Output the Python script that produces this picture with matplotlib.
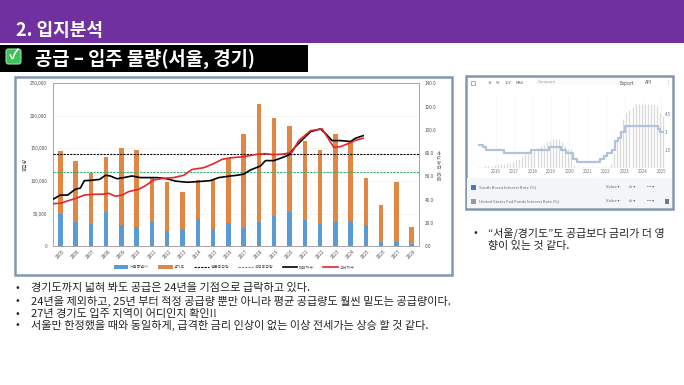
import matplotlib
matplotlib.use("Agg")
import matplotlib.pyplot as plt
from matplotlib.patches import Rectangle, FancyBboxPatch
from matplotlib.lines import Line2D

plt.rcParams['font.family'] = ['Noto Sans CJK KR', 'DejaVu Sans']

W, H = 684, 385

# 공급 물량
years = list(range(2005, 2029))
total = [146000, 131000, 112000, 137000, 150000, 147000, 106000, 99000, 83000, 101000, 101000, 135500,
         173000, 218000, 197000, 185000, 162000, 148000, 172000, 162000, 105000, 63000, 99000, 29000]
seoul = [50000, 38000, 34000, 52000, 33000, 29000, 37000, 24000, 27000, 42000, 27000, 36000,
         28600, 37000, 47000, 52000, 40000, 34000, 37000, 39000, 32000, 6000, 7000, 3000]
gyeonggi = [t - s for t, s in zip(total, seoul)]
avg_supply = 141000
proper_supply = 114500

# 매매지수
sale_t = [2004.52, 2005.0, 2005.48, 2005.98, 2006.31, 2006.57, 2007.07, 2007.58, 2007.95, 2008.27, 2008.71,
          2009.15, 2009.69, 2010.24, 2010.78, 2011.33, 2011.99, 2012.53, 2013.30, 2013.95, 2014.82, 2015.37,
          2016.13, 2016.57, 2017.01, 2017.44, 2018.10, 2018.43, 2018.97, 2019.41, 2019.95, 2020.39, 2020.94,
          2021.38, 2022.03, 2022.35, 2022.79, 2023.34, 2024.0, 2024.32, 2024.82]
sale = [40.4, 44, 44, 49, 50, 56.4, 56.7, 57.5, 61, 60.4, 58, 59, 60.4, 59, 59, 59, 58, 56, 55, 55.5, 56.4, 59,
        60.4, 61, 62, 65.5, 69, 73.6, 73.6, 75.6, 78.4, 85.6, 92.8, 98.5, 100.8, 97, 90.8, 90.8, 90, 92.8, 95]

# 전세지수
rent_t = [2004.52, 2005.0, 2005.48, 2005.98, 2006.57, 2007.18, 2007.73, 2008.17, 2008.60, 2009.04, 2009.48,
          2010.13, 2010.57, 2011.11, 2011.77, 2012.42, 2013.08, 2013.62, 2014.39, 2015.04, 2015.59, 2016.13,
          2016.79, 2017.0, 2017.88, 2018.43, 2018.97, 2019.63, 2020.17, 2020.61, 2021.38, 2022.14, 2022.47,
          2022.90, 2023.34, 2024.0, 2024.32, 2024.82]
rent = [36.6, 37, 39, 41, 44, 44.7, 44.7, 45.5, 43, 44, 47, 49, 52, 57, 58.4, 59, 61, 66, 67.5, 71, 74.7, 76,
        76.7, 77, 79, 79.6, 78.7, 79.3, 81, 90.8, 99.3, 100.8, 94, 85, 85.6, 89, 91, 92.8]

# 금리 스크린샷
kr_t = [2015.10, 2015.3, 2015.45, 2016.45, 2017.9, 2018.9, 2019.55, 2019.8, 2020.2, 2020.4, 2021.65, 2021.9,
        2022.05, 2022.3, 2022.5, 2022.65, 2022.8, 2023.05, 2024.8, 2024.95, 2025.1]
kr_rate = [1.9, 1.75, 1.5, 1.25, 1.5, 1.75, 1.5, 1.25, 0.75, 0.5, 0.75, 1.0,
           1.25, 1.5, 2.25, 2.5, 3.0, 3.5, 3.25, 3.0, 3.0]
us_rate = [0.12, 0.12, 0.13, 0.13, 0.14, 0.24,
           0.36, 0.37, 0.37, 0.39, 0.40, 0.54,
           0.65, 0.79, 1.04, 1.15, 1.15, 1.30,
           1.41, 1.69, 1.82, 1.91, 2.19, 2.27,
           2.40, 2.41, 2.38, 2.13, 1.83, 1.55,
           1.55, 0.26, 0.05, 0.09, 0.09, 0.09,
           0.09, 0.07, 0.06, 0.09, 0.08, 0.08,
           0.08, 0.33, 1.21, 2.33, 3.08, 4.10,
           4.57, 4.83, 5.08, 5.33, 5.33, 5.33,
           5.33, 5.33, 5.33, 5.33, 5.13, 4.58,
           4.33, 4.33]
us_t = [2015.1 + i / 6 for i in range(len(us_rate))]
rate_years = list(range(2016, 2026))


def px_axes(x0, y0, x1, y1, **kw):
    return fig.add_axes([x0 / W, 1 - y1 / H, (x1 - x0) / W, (y1 - y0) / H], **kw)


fig = plt.figure(figsize=(W / 100, H / 100), dpi=100, facecolor='white')

# 슬라이드 배경
bg = fig.add_axes([0, 0, 1, 1])
bg.set_xlim(0, W)
bg.set_ylim(H, 0)
bg.axis('off')

bg.add_patch(Rectangle((0, 0), W, 43, fc='#7030A0', ec='none'))
bg.text(16, 30, '2. 입지분석', color='white', fontsize=13, fontweight='bold', va='center')
bg.add_patch(Rectangle((0, 45), 308, 27, fc='black', ec='none'))
bg.add_patch(FancyBboxPatch((6, 49), 15, 15, boxstyle='round,pad=0,rounding_size=2.5', fc='#3FC25C', ec='#9BE0A8', lw=0.8))
bg.text(13.5, 56, '✓', color='white', fontsize=10, fontweight='bold', ha='center', va='center')
bg.text(35, 59, '공급 – 입주 물량(서울, 경기)', color='white', fontsize=13.5, fontweight='bold', va='center')

bg.add_patch(Rectangle((15, 77), 437, 198, fc='white', ec='#8497B0', lw=1.8))
bg.add_patch(Rectangle((466, 76), 207, 133, fc='white', ec='#8497B0', lw=1.8))

# 공급 차트
ax = px_axes(52.7, 83.3, 419.3, 246.3)
ax.bar(years, seoul, width=0.29, color='#5B9BD5', zorder=2)
ax.bar(years, gyeonggi, width=0.29, bottom=seoul, color='#E28743', zorder=2)
ax.axhline(avg_supply, color='black', lw=0.8, ls=(0, (2, 1)), zorder=3)
ax.axhline(proper_supply, color='#3DAA6D', lw=0.8, ls=(0, (2, 1)), zorder=3)
ax.set_xlim(2004.5, 2028.5)
ax.set_ylim(0, 250000)
ax.set_xticks(years)
ax.set_xticklabels(years, rotation=45, fontsize=3.4, color='#555555')
ax.set_yticks(range(0, 250001, 50000))
ax.set_yticklabels([f'{v:,}' for v in range(0, 250001, 50000)], fontsize=3.4, color='#555555')
ax.tick_params(length=0, pad=4)
ax.tick_params(axis='x', pad=2)
ax.grid(axis='y', color='#F2F2F2', lw=0.5, zorder=0)
ax.set_axisbelow(True)
ax.set_ylabel('공급량', fontsize=3.4, color='#555555', labelpad=2)
for s in ax.spines.values():
    s.set_color('#A6A6A6')
    s.set_linewidth(0.7)

ax2 = ax.twinx()
ax2.plot(sale_t, sale, color='black', lw=1.2, zorder=4)
ax2.plot(rent_t, rent, color='#E5262A', lw=1.2, zorder=5)
ax2.set_ylim(0, 140)
ax2.set_yticks(range(0, 141, 20))
ax2.set_yticklabels([f'{v:.1f}' for v in range(0, 141, 20)], fontsize=3.4, color='#555555')
ax2.tick_params(length=0, pad=4)
ax2.set_ylabel('매매·전세 지수', fontsize=3.4, color='#555555', labelpad=1)
for s in ax2.spines.values():
    s.set_visible(False)

handles = [Rectangle((0, 0), 1, 1, fc='#5B9BD5'), Rectangle((0, 0), 1, 1, fc='#E28743'),
           Line2D([], [], color='black', lw=0.8, ls=(0, (2, 1))),
           Line2D([], [], color='#3DAA6D', lw=0.8, ls=(0, (2, 1))),
           Line2D([], [], color='black', lw=1.2), Line2D([], [], color='#E5262A', lw=1.2)]
labels = ['서울특별시', '경기도', '평균공급량', '적정공급량', '매매지수', '전세지수']
fig.legend(handles, labels, ncol=6, frameon=False, fontsize=2.9, labelcolor='#555555', loc='center',
           bbox_to_anchor=(234 / W, 1 - 267 / H), handlelength=3.7, handleheight=1.4, columnspacing=2.2, handletextpad=0.4)

# 금리 패널
rx = px_axes(478, 96, 665, 168)
rx.vlines(us_t, 0, us_rate, color='#DADADA', lw=0.9, zorder=1)
rx.plot(kr_t, kr_rate, color='#AFC3DC', lw=1.6, zorder=2, drawstyle='steps-post')
rx.set_xlim(2015.03, 2025.2)
rx.set_ylim(0, 6)
rx.set_xticks(rate_years)
rx.set_xticklabels(rate_years, fontsize=3.2, color='#777777')
rx.yaxis.tick_right()
rx.set_yticks([1.5, 3, 4.5])
rx.set_yticklabels(['1.5', '3', '4.5'], fontsize=3.2, color='#777777')
rx.tick_params(length=0)
rx.tick_params(axis='x', pad=1)
rx.tick_params(axis='y', pad=0)
rx.grid(axis='x', color='#F3F3F3', lw=0.4)
rx.set_axisbelow(True)
rx.patch.set_alpha(0)
for s in rx.spines.values():
    s.set_visible(False)

top = fig.add_axes([0, 0, 1, 1], zorder=5)
top.set_xlim(0, W)
top.set_ylim(H, 0)
top.axis('off')
top.add_patch(Rectangle((467, 178), 205, 30, fc='#F4F5F7', ec='none'))
top.add_patch(Rectangle((536, 78), 104, 7, fc='#FAFAFA', ec='none'))
top.add_patch(Rectangle((471, 81), 4, 4, fc='white', ec='#888888', lw=0.5))
for x, s in [(490, '1Y'), (498, '5Y'), (508, '10Y'), (520, 'MAX')]:
    top.text(x, 83, s, fontsize=3, color='#666666', ha='center', va='center')
top.text(538, 82.5, 'Compare', fontsize=3, color='#999999', va='center')
top.text(620, 83, 'Export', fontsize=3.4, color='#555555', va='center')
top.text(645, 83, 'API', fontsize=3.4, color='#555555', va='center')
top.text(668, 83, '⋮', fontsize=3.4, color='#555555', ha='center', va='center')
top.add_patch(Rectangle((471, 185), 5, 5, fc='#3F7FBF', ec='none'))
top.add_patch(Rectangle((471, 199), 5, 5, fc='#999999', ec='none'))
top.add_patch(Rectangle((665, 199), 4, 5, fc='#777777', ec='none'))
top.text(479, 187.5, 'South Korea Interest Rate (%)', fontsize=3, color='#666666', va='center')
top.text(479, 201.5, 'United States Fed Funds Interest Rate (%)', fontsize=3, color='#666666', va='center')
for y in (187.5, 201.5):
    top.text(606, y, 'Value ▾', fontsize=3, color='#666666', va='center')
    top.text(629, y, 'ılı ▾', fontsize=3, color='#666666', va='center')
    top.text(647, y, '••• ▾', fontsize=3, color='#666666', va='center')

# 본문
bullets = ['경기도까지 넓혀 봐도 공급은 24년을 기점으로 급락하고 있다.',
           '24년을 제외하고, 25년 부터 적정 공급량 뿐만 아니라 평균 공급량도 훨씬 밑도는 공급량이다.',
           '27년 경기도 입주 지역이 어디인지 확인!!',
           '서울만 한정했을 때와 동일하게, 급격한 금리 인상이 없는 이상 전세가는 상승 할 것 같다.']
for y, s in zip([288, 301, 314, 325], bullets):
    top.text(16, y, '•', fontsize=8, color='#222222', va='center')
    top.text(31, y, s, fontsize=8, color='#222222', va='center')
top.text(474, 233, '•', fontsize=8, color='#222222', va='center')
top.text(488, 233, '“서울/경기도”도 공급보다 금리가 더 영', fontsize=7.9, color='#222222', va='center')
top.text(488, 246, '향이 있는 것 같다.', fontsize=7.9, color='#222222', va='center')

fig.savefig('out.png', dpi=100)
